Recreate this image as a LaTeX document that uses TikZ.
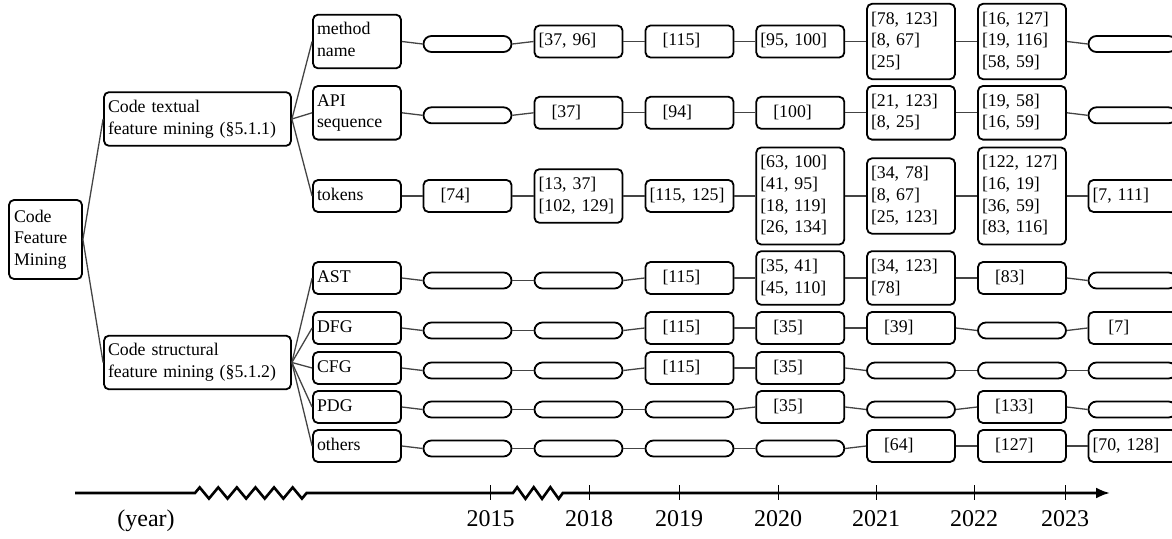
\documentclass[tikz,border=0pt]{standalone}
\usepackage{fontspec}
\setmainfont{Liberation Serif}
\usetikzlibrary{arrows.meta,decorations.pathmorphing}
\definecolor{tlink}{HTML}{444444}
\newcommand\ind{\hspace*{6.5pt}}

\begin{document}
\begin{tikzpicture}[
  x=.5pt,y=-.5pt,
  font=\fontsize{8.9}{10.85}\selectfont,
  box/.style={draw=black,line width=.9pt,rounded corners=2.5pt,align=left,
    inner xsep=2pt,inner ysep=2.57pt,
    execute at begin node=\strut,execute at end node=\strut},
  ref/.style={box,text width=40pt},
  gap/.style={draw=black,line width=.9pt,rounded corners=4pt,
    minimum width=44pt,minimum height=8pt,inner sep=0pt},
  link/.style={draw=tlink,line width=.65pt},
  axis/.style={draw=black,line width=1.3pt},
  tick/.style={draw=black,line width=.5pt},
  yr/.style={font=\fontsize{12}{14}\selectfont,anchor=base}
]
  \path[use as bounding box] (0,0) rectangle (1172,539);
  % rows and year columns
  \foreach \r/\y in {1/41.5,2/112.8,3/196,4/278,5/328,6/368,7/407,8/446}
    \coordinate (row\r) at (0,\y);
  \foreach \c/\x in {1/467.5,2/578.5,3/689.5,4/800.3,5/911,6/1022,7/1132.5}
    \coordinate (col\c) at (\x,0);
  \coordinate (fcol) at (357,0);

  \node[box,text width=31.5pt,inner xsep=2.5pt,minimum height=39.5pt]
    (root) at (45.5,239.5) {Code\\Feature\\Mining};
  \node[box,text width=89.5pt] (txt) at (197.5,119)
    {Code textual\\feature mining (\S5.1.1)};
  \node[box,text width=89.5pt] (str) at (197.5,362.5)
    {Code structural\\feature mining (\S5.1.2)};
  \foreach \r/\lab in {1/{method\\name},2/{API\\sequence},3/tokens,4/AST,
                       5/DFG,6/CFG,7/PDG,8/others}
    \node[ref] (f\r) at (fcol |- row\r) {\lab};

  % cited works per year
  \foreach \r/\c/\txt in {
      1/2/{[37, 96]},1/3/{\ind[115]},1/4/{[95, 100]},
      1/5/{[78, 123]\\{}[8, 67]\\{}[25]},1/6/{[16, 127]\\{}[19, 116]\\{}[58, 59]},
      2/2/{\ind[37]},2/3/{\ind[94]},2/4/{\ind[100]},
      2/5/{[21, 123]\\{}[8, 25]},2/6/{[19, 58]\\{}[16, 59]},
      3/1/{\ind[74]},3/2/{[13, 37]\\{}[102, 129]},3/3/{[115, 125]},
      3/4/{[63, 100]\\{}[41, 95]\\{}[18, 119]\\{}[26, 134]},
      3/5/{[34, 78]\\{}[8, 67]\\{}[25, 123]},
      3/6/{[122, 127]\\{}[16, 19]\\{}[36, 59]\\{}[83, 116]},3/7/{[7, 111]},
      4/3/{\ind[115]},4/4/{[35, 41]\\{}[45, 110]},4/5/{[34, 123]\\{}[78]},
      4/6/{\ind[83]},
      5/3/{\ind[115]},5/4/{\ind[35]},5/5/{\ind[39]},5/7/{\ind\,[7]},
      6/3/{\ind[115]},6/4/{\ind[35]},
      7/4/{\ind[35]},7/6/{\ind[133]},
      8/5/{\ind[64]},8/6/{\ind[127]},8/7/{[70, 128]}}
    \node[ref] (c\r-\c) at (col\c |- row\r) {\txt};
  \foreach \r/\c in {1/1,1/7,2/1,2/7,4/1,4/2,4/7,5/1,5/2,5/6,6/1,6/2,6/5,
                     6/6,6/7,7/1,7/2,7/3,7/5,7/7,8/1,8/2,8/3,8/4}
    \node[gap,yshift=-1.25pt] (c\r-\c) at (col\c |- row\r) {};

  \draw[link] (root.east) -- (txt.west);
  \draw[link] (root.east) -- (str.west);
  \foreach \r in {1,2,3}
    \draw[link] (txt.east) -- (f\r.west);
  \foreach \r in {4,...,8}
    \draw[link] (str.east) -- (f\r.west);
  \foreach \r in {1,...,8}{
    \draw[link] (f\r.east) -- (c\r-1.west);
    \foreach \c [evaluate=\c as \p using int(\c-1)] in {2,...,7}
      \draw[link] (c\r-\p.east) -- (c\r-\c.west);
  }

  % time axis
  \coordinate (ax0) at (75,493);
  \coordinate (ax1) at (1110,493);
  \draw[axis,-{Latex[length=7pt,width=5.5pt]}] (ax0) -- (195,493)
    decorate[decoration={zigzag,segment length=9.3pt,amplitude=2.8pt}]
      {-- (307,493)} -- (513,493)
    decorate[decoration={zigzag,segment length=8.3pt,amplitude=2.9pt}]
      {-- (563,493)} -- (ax1);
  \foreach \x/\yr in {490.7/2015,589/2018,679/2019,778/2020,
                      876/2021,974/2022,1065/2023}{
    \draw[tick] (\x,485) -- (\x,500);
    \node[yr] (y\yr) at (\x,526) {\yr};
  }
  \node[yr] (unit) at (146,526) {(year)};
\end{tikzpicture}
\end{document}
